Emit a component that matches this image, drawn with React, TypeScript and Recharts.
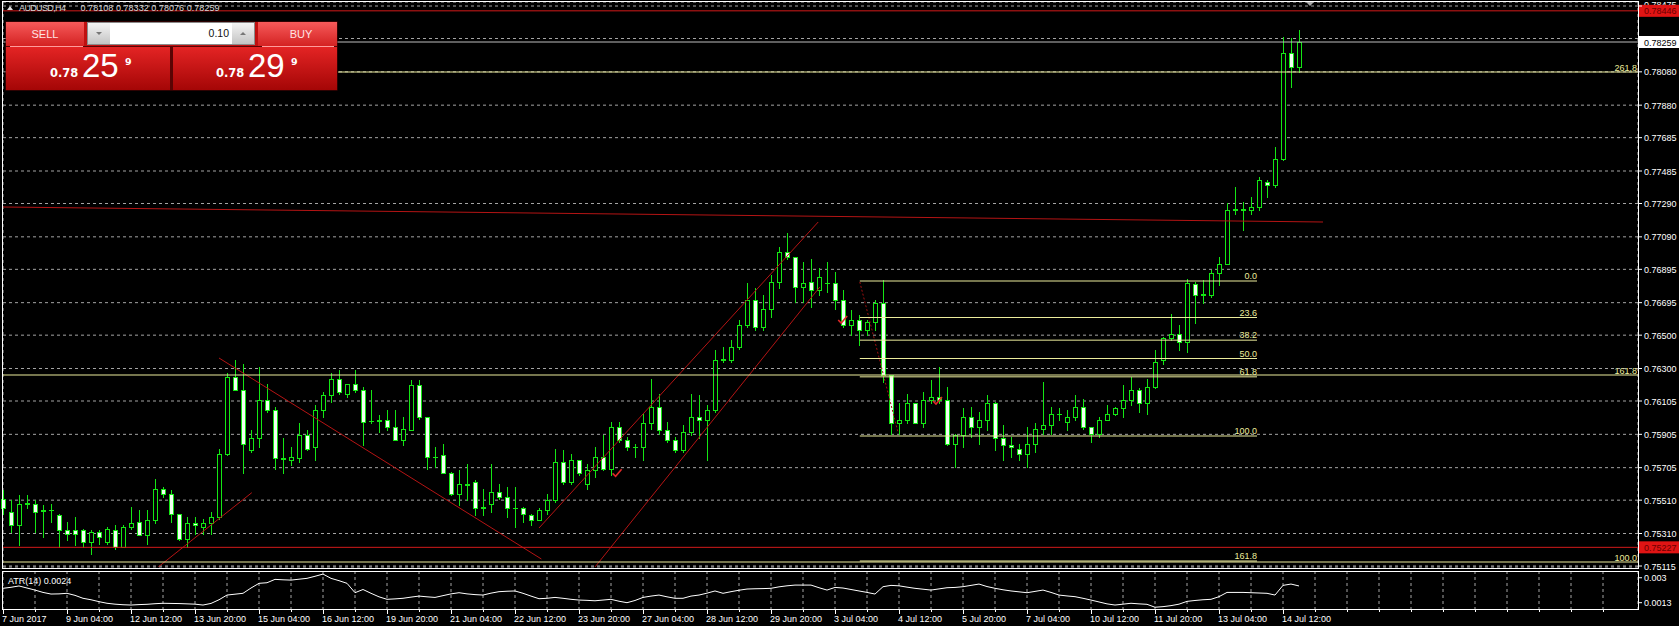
import React from "react";
import { ComposedChart, Bar, Line, XAxis, YAxis, CartesianGrid, ReferenceLine, ReferenceDot } from "recharts";

// AUDUSD H4 candles
const opens = [
  0.7552, 0.7544, 0.7536, 0.7549, 0.7549, 0.7545, 0.7545, 0.7542, 0.7533, 0.7533,
  0.7533, 0.7526, 0.7532, 0.7526, 0.7533, 0.7523, 0.7535, 0.7538, 0.753, 0.7539,
  0.7558, 0.7555, 0.7543, 0.7528, 0.7537, 0.7535, 0.7537, 0.7541, 0.7579, 0.7625,
  0.7617, 0.7581, 0.7588, 0.7611, 0.7605, 0.7576, 0.7575, 0.7576, 0.759, 0.7583,
  0.7605, 0.7614, 0.7624, 0.7615, 0.7621, 0.7617, 0.75986, 0.7599, 0.7599, 0.7595,
  0.7587, 0.7593, 0.762, 0.7601, 0.7577, 0.7578, 0.7567, 0.7555, 0.756, 0.7562,
  0.7547, 0.7549, 0.7556, 0.7553, 0.75464, 0.7546, 0.7542, 0.7539, 0.7545, 0.7551,
  0.7574, 0.7562, 0.7575, 0.7561, 0.7569, 0.7577, 0.757, 0.7595, 0.7587, 0.7583,
  0.7583, 0.7597, 0.7607, 0.7593, 0.7587, 0.7581, 0.7592, 0.7601, 0.7599, 0.7605,
  0.7635, 0.7635, 0.7643, 0.7656, 0.7671, 0.7655, 0.7666, 0.7682, 0.77, 0.7697,
  0.7679, 0.7682, 0.7677, 0.76814, 0.7681, 0.7671, 0.7656, 0.7659, 0.7653, 0.7658,
  0.7669, 0.7626, 0.7597, 0.7599, 0.7609, 0.7597, 0.7611, 0.7613, 0.7611, 0.7585,
  0.759, 0.7601, 0.7595, 0.7599, 0.7609, 0.7588, 0.7584, 0.7582, 0.7579, 0.7585,
  0.7594, 0.7596, 0.76028, 0.7598, 0.7601, 0.7607, 0.7595, 0.7591, 0.7599, 0.7603,
  0.7606, 0.7611, 0.7617, 0.7609, 0.7619, 0.7635, 0.7648, 0.7651, 0.7646, 0.7681,
  0.7674, 0.7674, 0.7687, 0.7693, 0.7725, 0.7726, 0.7725, 0.7727, 0.7742, 0.774,
  0.7756, 0.7819, 0.78108,
];
const highs = [
  0.7557, 0.7551, 0.7554, 0.7554, 0.7551, 0.7548, 0.7549, 0.7543, 0.7538, 0.7541,
  0.7534, 0.7533, 0.7533, 0.7535, 0.7536, 0.7536, 0.7547, 0.7545, 0.7545, 0.7564,
  0.7559, 0.7557, 0.7543, 0.7541, 0.7541, 0.754, 0.7544, 0.7582, 0.7627, 0.7635,
  0.7633, 0.7593, 0.7631, 0.7621, 0.7607, 0.7588, 0.7583, 0.7597, 0.7593, 0.7608,
  0.7616, 0.7627, 0.7629, 0.7621, 0.7629, 0.7619, 0.7617, 0.7602, 0.7605, 0.7605,
  0.7601, 0.7623, 0.7623, 0.7601, 0.7583, 0.7585, 0.7568, 0.7569, 0.7573, 0.7563,
  0.7558, 0.7573, 0.7561, 0.7559, 0.7559, 0.7547, 0.7543, 0.7546, 0.7555, 0.7582,
  0.7581, 0.7579, 0.7575, 0.7573, 0.7583, 0.759, 0.7598, 0.7598, 0.7589, 0.7585,
  0.7603, 0.7624, 0.7615, 0.7598, 0.7589, 0.7596, 0.7615, 0.7614, 0.7608, 0.7641,
  0.7643, 0.7647, 0.7659, 0.7681, 0.7678, 0.7674, 0.7686, 0.7703, 0.7711, 0.7697,
  0.7694, 0.7696, 0.769, 0.7694, 0.7688, 0.7677, 0.7665, 0.7662, 0.7659, 0.7671,
  0.7683, 0.7626, 0.7609, 0.7615, 0.7609, 0.7616, 0.7623, 0.7631, 0.7619, 0.7591,
  0.7606, 0.7607, 0.7604, 0.7614, 0.761, 0.7596, 0.7589, 0.7585, 0.7595, 0.7597,
  0.7622, 0.7607, 0.7606, 0.7605, 0.7614, 0.7612, 0.7595, 0.7601, 0.7608, 0.7607,
  0.762, 0.7625, 0.7618, 0.7624, 0.7641, 0.7649, 0.7663, 0.7656, 0.7684, 0.7682,
  0.7683, 0.7689, 0.7697, 0.7729, 0.7739, 0.773, 0.7733, 0.7745, 0.7743, 0.7763,
  0.7829, 0.7828, 0.78332,
];
const lows = [
  0.7543, 0.7532, 0.7524, 0.7546, 0.7532, 0.7529, 0.7538, 0.7523, 0.7527, 0.7524,
  0.7523, 0.7519, 0.7525, 0.7525, 0.7522, 0.7523, 0.7534, 0.753, 0.7525, 0.7537,
  0.7553, 0.7538, 0.7527, 0.7523, 0.7531, 0.7531, 0.7531, 0.754, 0.7578, 0.7617,
  0.7567, 0.758, 0.7583, 0.7604, 0.757, 0.7567, 0.7572, 0.7574, 0.7581, 0.7575,
  0.7601, 0.761, 0.7615, 0.7613, 0.7616, 0.7584, 0.7597, 0.7592, 0.7593, 0.7587,
  0.7584, 0.7593, 0.76, 0.757, 0.7571, 0.7567, 0.7554, 0.7548, 0.7551, 0.7542,
  0.7542, 0.7544, 0.7552, 0.7541, 0.7535, 0.7538, 0.7536, 0.7539, 0.7543, 0.755,
  0.7561, 0.7561, 0.7566, 0.7558, 0.7565, 0.7569, 0.7566, 0.7586, 0.7581, 0.7577,
  0.7575, 0.7594, 0.7591, 0.7586, 0.758, 0.758, 0.759, 0.7588, 0.7575, 0.7604,
  0.7634, 0.7634, 0.7642, 0.7655, 0.7653, 0.7653, 0.7661, 0.7678, 0.7696, 0.767,
  0.767, 0.7667, 0.7674, 0.7676, 0.7666, 0.7655, 0.765, 0.7644, 0.765, 0.7653,
  0.7622, 0.7591, 0.7591, 0.7597, 0.7597, 0.7595, 0.7609, 0.7609, 0.7584, 0.7571,
  0.7583, 0.7589, 0.7585, 0.7593, 0.7581, 0.7575, 0.7577, 0.7575, 0.7571, 0.758,
  0.7591, 0.7591, 0.7599, 0.7593, 0.7599, 0.7594, 0.7586, 0.7589, 0.7599, 0.7602,
  0.7601, 0.7608, 0.7604, 0.7603, 0.7618, 0.7633, 0.7647, 0.7641, 0.764, 0.7657,
  0.7669, 0.7673, 0.768, 0.7693, 0.7723, 0.7713, 0.7723, 0.7725, 0.7733, 0.7739,
  0.7755, 0.7799, 0.78076,
];
const closes = [
  0.7546, 0.7536, 0.7549, 0.75492, 0.7544, 0.75446, 0.75448, 0.7533, 0.7531, 0.7531,
  0.7526, 0.7532, 0.7529, 0.7534, 0.7523, 0.7535, 0.7537, 0.753, 0.7539, 0.7558,
  0.7555, 0.7543, 0.7528, 0.7537, 0.7536, 0.7537, 0.7541, 0.7579, 0.7625, 0.7617,
  0.7585, 0.7588, 0.7611, 0.7605, 0.7576, 0.75756, 0.7577, 0.759, 0.7582, 0.7605,
  0.7614, 0.7624, 0.7616, 0.7621, 0.7617, 0.7598, 0.75984, 0.75988, 0.7595, 0.7587,
  0.7594, 0.762, 0.7601, 0.7577, 0.75772, 0.7567, 0.7555, 0.7561, 0.7561, 0.7546,
  0.7546, 0.7556, 0.7553, 0.7546, 0.75462, 0.7543, 0.7539, 0.7545, 0.7551, 0.7574,
  0.7562, 0.7575, 0.7567, 0.7569, 0.7577, 0.757, 0.7595, 0.7587, 0.7583, 0.75832,
  0.7597, 0.7607, 0.7593, 0.7587, 0.7581, 0.7592, 0.7601, 0.7599, 0.7605, 0.7635,
  0.7636, 0.7643, 0.7656, 0.7671, 0.7655, 0.7666, 0.7682, 0.77, 0.7697, 0.7679,
  0.7681, 0.7677, 0.7685, 0.76816, 0.7671, 0.7656, 0.7659, 0.7653, 0.7658, 0.7669,
  0.7626, 0.7597, 0.7599, 0.7609, 0.7597, 0.7611, 0.7613, 0.7611, 0.7585, 0.759,
  0.7601, 0.7595, 0.7599, 0.7609, 0.7588, 0.7584, 0.7583, 0.7579, 0.7585, 0.7594,
  0.7596, 0.7603, 0.7603, 0.7601, 0.7607, 0.7595, 0.7591, 0.7599, 0.7603, 0.7606,
  0.7611, 0.7617, 0.7609, 0.7619, 0.7634, 0.7648, 0.7651, 0.7646, 0.7681, 0.7674,
  0.7675, 0.7687, 0.7693, 0.7725, 0.7726, 0.7725, 0.7727, 0.7743, 0.774, 0.7756,
  0.7819, 0.7811, 0.78259,
];
const atrValues = [
  0.00228, 0.00235, 0.00244, 0.0023, 0.00216, 0.002, 0.00189, 0.0019, 0.00194, 0.0018,
  0.0016, 0.0015, 0.00137, 0.00126, 0.0012, 0.00116, 0.00114, 0.00117, 0.00119, 0.00123,
  0.00126, 0.00125, 0.00124, 0.00122, 0.0012, 0.00114, 0.00125, 0.0015, 0.00182, 0.00188,
  0.00194, 0.0023, 0.00262, 0.00266, 0.00289, 0.00286, 0.00284, 0.0029, 0.00296, 0.0031,
  0.00325, 0.00296, 0.0028, 0.00262, 0.00198, 0.0022, 0.00194, 0.0017, 0.00153, 0.00156,
  0.0016, 0.00168, 0.00175, 0.0017, 0.00166, 0.00178, 0.0019, 0.00198, 0.0019, 0.00185,
  0.00182, 0.00195, 0.00205, 0.00208, 0.0021, 0.00194, 0.00175, 0.00157, 0.0016, 0.00166,
  0.0016, 0.00153, 0.00148, 0.00146, 0.00143, 0.00148, 0.00153, 0.0014, 0.0013, 0.00145,
  0.00166, 0.00175, 0.00182, 0.0017, 0.0016, 0.0016, 0.00175, 0.00182, 0.00195, 0.0021,
  0.00194, 0.00205, 0.00215, 0.00223, 0.00225, 0.00226, 0.00228, 0.00238, 0.00245, 0.0025,
  0.0025, 0.0025, 0.00232, 0.00216, 0.00234, 0.0023, 0.0022, 0.0021, 0.002, 0.00189,
  0.00239, 0.00248, 0.00245, 0.00236, 0.00228, 0.00222, 0.00216, 0.00224, 0.00232, 0.00234,
  0.00239, 0.00248, 0.00257, 0.0024, 0.00228, 0.00218, 0.0021, 0.00204, 0.00198, 0.00207,
  0.00216, 0.002, 0.00182, 0.00176, 0.00171, 0.0016, 0.00148, 0.00135, 0.00122, 0.00114,
  0.0012, 0.00126, 0.00122, 0.00119, 0.00099, 0.00103, 0.0011, 0.0012, 0.00139, 0.00145,
  0.0015, 0.00153, 0.00171, 0.002, 0.002, 0.002, 0.00198, 0.00196, 0.00194, 0.00182,
  0.00248, 0.00257, 0.00244,
];
const dateLabels = [
  "7 Jun 2017", "9 Jun 04:00", "12 Jun 12:00", "13 Jun 20:00", "15 Jun 04:00", "16 Jun 12:00",
  "19 Jun 20:00", "21 Jun 04:00", "22 Jun 12:00", "23 Jun 20:00", "27 Jun 04:00", "28 Jun 12:00",
  "29 Jun 20:00", "3 Jul 04:00", "4 Jul 12:00", "5 Jul 20:00", "7 Jul 04:00", "10 Jul 12:00",
  "11 Jul 20:00", "13 Jul 04:00", "14 Jul 12:00",
];
const priceTicks = [
  0.75115, 0.7531, 0.7551, 0.75705, 0.75905, 0.76105, 0.763, 0.765, 0.76695,
  0.76895, 0.7709, 0.7729, 0.77485, 0.77685, 0.7788, 0.7808, 0.7828, 0.78475,
];
const atrTicks = [0.0013, 0.003];

// objects drawn on the chart
const redLevels = [0.78446, 0.75227];
const bidPrice = 0.78259;
const longFibLevels = [
  { label: "261.8", price: 0.78079, from: 41.875 },
  { label: "161.8", price: 0.76261, from: 0 },
  { label: "100.0", price: 0.75139, from: 0 },
];
const fibLevels = [
  { label: "0.0", price: 0.76825 },
  { label: "23.6", price: 0.76606 },
  { label: "38.2", price: 0.7647 },
  { label: "50.0", price: 0.7636 },
  { label: "61.8", price: 0.7625 },
  { label: "100.0", price: 0.75895 },
  { label: "161.8", price: 0.75145 },
];
const fibSpan = [107.1, 156.75];
const trendLines = [
  [[27, 0.76363], [67.3, 0.75157]],
  [[19.4, 0.75109], [31.1, 0.75555]],
  [[67, 0.75343], [101.9, 0.77179]],
  [[73.9, 0.75103], [102.1, 0.76789]],
  [[0, 0.77269], [165, 0.77179]],
];
const fibTrend = [[107.1, 0.76819], [111.9, 0.75913]];
const tradeMarks = [[76.7, 0.75671], [104.9, 0.76591], [116.75, 0.76105]];

const candles = opens.map((o, i) => ({ i, o, h: highs[i], l: lows[i], c: closes[i] }));
const atrData = atrValues.map((atr, i) => ({ i, atr }));

const X_MAX = 204.375;
const PRICE_MIN = 0.75109;
const PRICE_MAX = 0.78499;
const TOP_TICK = priceTicks[priceTicks.length - 1];
const gridBars = Array.from({ length: 50 }, (_, k) => (k + 1) * 4);
const axisBars = Array.from({ length: 51 }, (_, k) => k * 4);

const FONT = '"Liberation Sans", Arial, sans-serif';
const GREEN = "#14e614";
const BEAR_FILL = "#f2fff2";
const GRID = "#a4a4a4";
const YELLOW = "#ecec9c";
const AXIS_X = 1638;

function Candle(props: any) {
  const { x, y, width, height, payload } = props;
  if (!payload || !Number.isFinite(x) || !Number.isFinite(y)) return null;
  const { o, h, l, c } = payload;
  const cx = Math.round(x + width / 2) + 0.5;
  const span = h - l;
  const py = (v: number) => (span > 0 ? y + ((h - v) / span) * height : y);
  const top = Math.round(py(Math.max(o, c))) + 0.5;
  const bottom = Math.round(py(Math.min(o, c))) + 0.5;
  return (
    <g shapeRendering="crispEdges">
      <line x1={cx} x2={cx} y1={Math.round(y)} y2={Math.round(y + height) + 1} stroke={GREEN} />
      {bottom - top < 1 ? (
        <line x1={cx - 2.5} x2={cx + 2.5} y1={top} y2={top} stroke={GREEN} />
      ) : (
        <rect x={cx - 2} y={top} width={4} height={bottom - top} fill={c > o ? "#000" : BEAR_FILL} stroke={GREEN} />
      )}
    </g>
  );
}

function PriceTick(props: any) {
  const { y, payload } = props;
  const v = payload.value;
  // 0.7828 sits under the bid tag, 0.78475 under the red tag
  const hidden = v === 0.7828 || v === TOP_TICK;
  return (
    <g>
      <line x1={AXIS_X} x2={AXIS_X + 4} y1={y} y2={y} stroke="#fff" />
      {!hidden && (
        <text x={1644} y={y + 3.5} fill="#fff" fontSize={9} fontFamily={FONT}>
          {v.toFixed(5)}
        </text>
      )}
    </g>
  );
}

function AtrTick(props: any) {
  const { y, payload } = props;
  return (
    <g>
      <line x1={AXIS_X} x2={AXIS_X + 4} y1={y} y2={y} stroke="#fff" />
      <text x={1644} y={y + 3.5} fill="#fff" fontSize={9} fontFamily={FONT}>{String(payload.value)}</text>
    </g>
  );
}

function DateTick(props: any) {
  const { x, payload } = props;
  const v = payload.value;
  const label = v % 8 === 0 ? dateLabels[v / 8] : undefined;
  const axisY = 39;
  return (
    <g>
      <line x1={x + 0.5} x2={x + 0.5} y1={axisY} y2={axisY + (label ? 5 : 3)} stroke="#fff" />
      {label && (
        <text x={x - 1} y={axisY + 13} fill="#fff" fontSize={9} fontFamily={FONT}>{label}</text>
      )}
    </g>
  );
}

const priceTag = (text: string, bg: string, fg: string, behind?: string) => (props: any) => {
  const vb = props.viewBox;
  if (!vb) return null;
  const x = vb.x + vb.width + 1;
  return (
    <g>
      {behind && (
        <text x={1644} y={7.5} fill="#fff" fontSize={9} fontFamily={FONT}>{behind}</text>
      )}
      <rect x={x} y={vb.y - 6} width={41} height={12} fill={bg} />
      <text x={x + 5} y={vb.y + 3.5} fill={fg} fontSize={9} fontFamily={FONT}>{text}</text>
    </g>
  );
};

const levelText = (text: string, dx: number, dy: number) => (props: any) => {
  const vb = props.viewBox;
  if (!vb) return null;
  return (
    <text x={vb.x + vb.width + dx} y={vb.y - dy} textAnchor="end" fill={YELLOW} fontSize={9} fontFamily={FONT}>
      {text}
    </text>
  );
};

function TradeMark(props: any) {
  const { cx, cy } = props;
  if (!Number.isFinite(cx)) return null;
  return <polyline points={`${cx - 4},${cy} ${cx - 1},${cy + 3} ${cx + 5},${cy - 4}`} fill="none" stroke="#e02828" strokeWidth={1.6} />;
}

function TradePanel() {
  return (
    <svg width={340} height={95} style={{ position: "absolute", left: 0, top: 0 }}>
      <defs>
        <linearGradient id="btn" x1="0" y1="0" x2="0" y2="1">
          <stop offset="0" stopColor="#f65a5a" />
          <stop offset="1" stopColor="#d42222" />
        </linearGradient>
        <linearGradient id="box" x1="0" y1="0" x2="0" y2="1">
          <stop offset="0" stopColor="#e42424" />
          <stop offset="1" stopColor="#a40606" />
        </linearGradient>
        <linearGradient id="gray" x1="0" y1="0" x2="0" y2="1">
          <stop offset="0" stopColor="#f4f4f4" />
          <stop offset="1" stopColor="#c4c4c4" />
        </linearGradient>
      </defs>
      <rect x={5.5} y={21.5} width={332} height={69} fill="#5a0404" />
      <rect x={6} y={22} width={78} height={24} fill="url(#btn)" />
      <rect x={258} y={22} width={79} height={24} fill="url(#btn)" />
      <rect x={84} y={22} width={174} height={24} fill="#c01010" />
      <rect x={87.5} y={22.5} width={167} height={22} fill="#fff" stroke="#8a8a8a" />
      <rect x={88} y={23} width={22} height={21} fill="url(#gray)" />
      <rect x={232} y={23} width={22} height={21} fill="url(#gray)" />
      <polygon points="96,32 102,32 99,35" fill="#777" />
      <polygon points="240,35 246,35 243,32" fill="#777" />
      <text x={229} y={37} textAnchor="end" fontSize={10.5} fontFamily={FONT} fill="#111">0.10</text>
      <text x={45} y={37.5} textAnchor="middle" fontSize={11} fontFamily={FONT} fill="#ffe4e4">SELL</text>
      <text x={301} y={37.5} textAnchor="middle" fontSize={11} fontFamily={FONT} fill="#ffe4e4">BUY</text>
      <rect x={6} y={47} width={164} height={43} fill="url(#box)" />
      <rect x={173} y={47} width={164} height={43} fill="url(#box)" />
      <line x1={10} x2={83} y1={46.5} y2={46.5} stroke="#ff9c9c" />
      <line x1={262} x2={334} y1={46.5} y2={46.5} stroke="#ff9c9c" />
      <text x={50} y={77} fontSize={11.5} fontWeight="bold" fontFamily='"DejaVu Sans", sans-serif' fill="#fff">0.78</text>
      <text x={82} y={77} fontSize={33} fontFamily={FONT} fill="#fff">25</text>
      <text x={125} y={65} fontSize={9.5} fontWeight="bold" fontFamily='"DejaVu Sans", sans-serif' fill="#fff">9</text>
      <text x={216} y={77} fontSize={11.5} fontWeight="bold" fontFamily='"DejaVu Sans", sans-serif' fill="#fff">0.78</text>
      <text x={248} y={77} fontSize={33} fontFamily={FONT} fill="#fff">29</text>
      <text x={291} y={65} fontSize={9.5} fontWeight="bold" fontFamily='"DejaVu Sans", sans-serif' fill="#fff">9</text>
    </svg>
  );
}

export default function App() {
  return (
    <div style={{ position: "absolute", left: 0, top: 0, width: 1679, height: 626, background: "#000", overflow: "hidden" }}>
      <div style={{ position: "absolute", left: 0, top: 0 }}>
        <ComposedChart width={1679} height={570} data={candles} margin={{ top: 2, right: 0, bottom: 3, left: 3 }}>
          <CartesianGrid stroke={GRID} strokeDasharray="3 3" />
          <XAxis type="number" dataKey="i" domain={[0, X_MAX]} ticks={gridBars} interval={0} height={0} tick={false} tickLine={false} axisLine={false} />
          <YAxis orientation="right" type="number" domain={[PRICE_MIN, PRICE_MAX]} ticks={priceTicks} interval={0} width={41} tickLine={false} axisLine={false} tick={(p: any) => <PriceTick {...p} />} />
          {trendLines.map((seg, k) => (
            <ReferenceLine key={`t${k}`} segment={[{ x: seg[0][0], y: seg[0][1] }, { x: seg[1][0], y: seg[1][1] }]} stroke="#b41414" ifOverflow="hidden" />
          ))}
          <ReferenceLine segment={[{ x: fibTrend[0][0], y: fibTrend[0][1] }, { x: fibTrend[1][0], y: fibTrend[1][1] }]} stroke="#a01010" strokeDasharray="2 2" ifOverflow="hidden" />
          {longFibLevels.map((lv) => (
            <ReferenceLine key={lv.label} segment={[{ x: lv.from, y: lv.price }, { x: X_MAX, y: lv.price }]} stroke={YELLOW} ifOverflow="hidden" label={levelText(lv.label, -1, 1.5)} />
          ))}
          {fibLevels.map((lv) => (
            <ReferenceLine key={`f${lv.label}`} segment={[{ x: fibSpan[0], y: lv.price }, { x: fibSpan[1], y: lv.price }]} stroke={YELLOW} ifOverflow="hidden" label={levelText(lv.label, 0, 2)} />
          ))}
          <Bar dataKey={(d: any) => [d.l, d.h]} barSize={6} shape={(p: any) => <Candle {...p} />} isAnimationActive={false} />
          {tradeMarks.map((m, k) => (
            <ReferenceDot key={`m${k}`} x={m[0]} y={m[1]} ifOverflow="hidden" shape={(p: any) => <TradeMark {...p} />} />
          ))}
          <ReferenceLine y={bidPrice} stroke="#bdbdbd" label={priceTag("0.78259", "#ffffff", "#000000")} />
          {redLevels.map((p, k) => (
            <ReferenceLine
              key={`r${p}`}
              y={p}
              stroke="#d21a1a"
              label={priceTag(p.toFixed(5), "#e01414", "#6a0000", k === 0 ? TOP_TICK.toFixed(5) : undefined)}
            />
          ))}
        </ComposedChart>
      </div>
      <div style={{ position: "absolute", left: 0, top: 570 }}>
        <ComposedChart width={1679} height={56} data={atrData} margin={{ top: 1, right: 0, bottom: 0, left: 3 }}>
          <CartesianGrid stroke={GRID} strokeDasharray="3 3" horizontal={false} />
          <XAxis type="number" dataKey="i" domain={[0, X_MAX]} ticks={axisBars} interval={0} height={17} tickLine={false} axisLine={false} tick={(p: any) => <DateTick {...p} />} />
          <YAxis orientation="right" type="number" domain={[0.00087, 0.00346]} ticks={atrTicks} interval={0} width={41} tickLine={false} axisLine={false} tick={(p: any) => <AtrTick {...p} />} />
          <Line dataKey="atr" stroke="#ffffff" strokeWidth={1} dot={false} isAnimationActive={false} />
        </ComposedChart>
      </div>
      <div style={{ position: "absolute", left: 2, top: 1, width: 1637, height: 568, border: "1px solid #fff", boxSizing: "border-box", pointerEvents: "none" }} />
      <div style={{ position: "absolute", left: 2, top: 571, width: 1637, height: 39, border: "1px solid #fff", boxSizing: "border-box", pointerEvents: "none" }} />
      <svg width={1679} height={626} style={{ position: "absolute", left: 0, top: 0, pointerEvents: "none" }}>
        <polygon points="7,10 13,10 10,6" fill="#e0e0e0" />
        <text x={19} y={10.5} fontSize={9} fontFamily={FONT} fill="#d8d8d8" textLength={47}>AUDUSD,H4</text>
        <text x={80.5} y={10.5} fontSize={9} fontFamily={FONT} fill="#d8d8d8" textLength={139}>0.78108 0.78332 0.78076 0.78259</text>
        <polygon points="1306,2 1314,2 1310,6" fill="#a8a8a8" />
        <text x={8} y={584} fontSize={9} fontFamily={FONT} fill="#fff">ATR(14) 0.0024</text>
      </svg>
      <TradePanel />
    </div>
  );
}
